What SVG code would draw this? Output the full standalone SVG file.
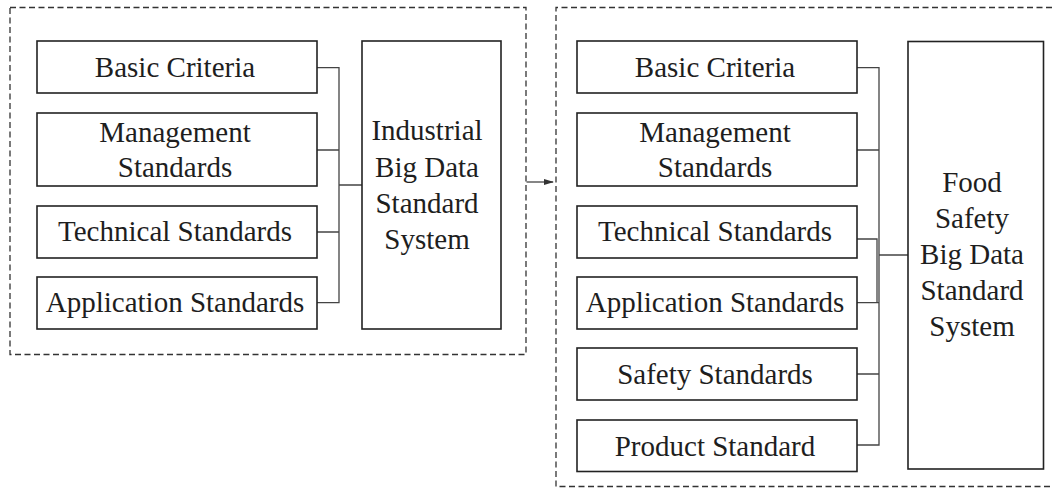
<svg xmlns="http://www.w3.org/2000/svg" width="1052" height="488" viewBox="0 0 1052 488">
<style>
  .frame { fill: none; stroke: #333; stroke-width: 1.3; stroke-dasharray: 6 3.5; }
  .box { fill: #fff; stroke: #222; stroke-width: 1.6; }
  .conn { fill: none; stroke: #444; stroke-width: 1.3; }
  text { font-family: "Liberation Serif", "Times New Roman", serif; font-size: 29px; fill: #1e1e1e; text-anchor: middle; }
</style>
<defs>
  <marker id="arrow" markerWidth="10" markerHeight="8" refX="9" refY="4" orient="auto" markerUnits="userSpaceOnUse">
    <path d="M0,1 L10,4 L0,7 Z" fill="#333"/>
  </marker>
</defs>
<rect width="1052" height="488" fill="#fff"/>

<g id="frame-industrial"><rect class="frame" x="10" y="7.5" width="516" height="347"/></g>
<g id="frame-food"><path class="frame" d="M1052,7.5 H556 V486.5 H1052"/></g>

<g id="connectors">
  <path class="conn" d="M317,67.7 H339 V302.7 H317 M317,150 H339 M317,232 H339 M339,185 H362"/>
  <path class="conn" d="M857,67.7 H879 V445 H857 M857,150 H879 M857,239 H877 V302.7 M857,302.7 H879 M857,374 H879 M879,255 H908"/>
  <line class="conn" x1="526.5" y1="182" x2="553" y2="182" marker-end="url(#arrow)"/>
</g>

<g id="l-basic"><rect class="box" x="37" y="41" width="280" height="52"/><text x="175" y="77">Basic Criteria</text></g>
<g id="l-management"><rect class="box" x="37" y="113" width="280" height="73"/><text x="175" y="141.5">Management</text><text x="175" y="176.5">Standards</text></g>
<g id="l-technical"><rect class="box" x="37" y="206" width="280" height="52"/><text x="175" y="241">Technical Standards</text></g>
<g id="l-application"><rect class="box" x="37" y="277" width="280" height="52"/><text x="175" y="312">Application Standards</text></g>
<g id="industrial"><rect class="box" x="362" y="41" width="139" height="288"/>
  <text x="427" y="140">Industrial</text><text x="427" y="176.5">Big Data</text><text x="427" y="213">Standard</text><text x="427" y="248.5">System</text></g>

<g id="r-basic"><rect class="box" x="577" y="41" width="280" height="52"/><text x="715" y="77">Basic Criteria</text></g>
<g id="r-management"><rect class="box" x="577" y="113" width="280" height="73"/><text x="715" y="141.5">Management</text><text x="715" y="176.5">Standards</text></g>
<g id="r-technical"><rect class="box" x="577" y="206" width="280" height="52"/><text x="715" y="241">Technical Standards</text></g>
<g id="r-application"><rect class="box" x="577" y="277" width="280" height="52"/><text x="715" y="312">Application Standards</text></g>
<g id="r-safety"><rect class="box" x="577" y="348" width="280" height="52"/><text x="715" y="383.5">Safety Standards</text></g>
<g id="r-product"><rect class="box" x="577" y="420" width="280" height="51.5"/><text x="715" y="455.5">Product Standard</text></g>
<g id="food"><rect class="box" x="908" y="41.5" width="135.5" height="427.5"/>
  <text x="972" y="192">Food</text><text x="972" y="228">Safety</text><text x="972" y="264">Big Data</text><text x="972" y="300">Standard</text><text x="972" y="336">System</text></g>
</svg>
